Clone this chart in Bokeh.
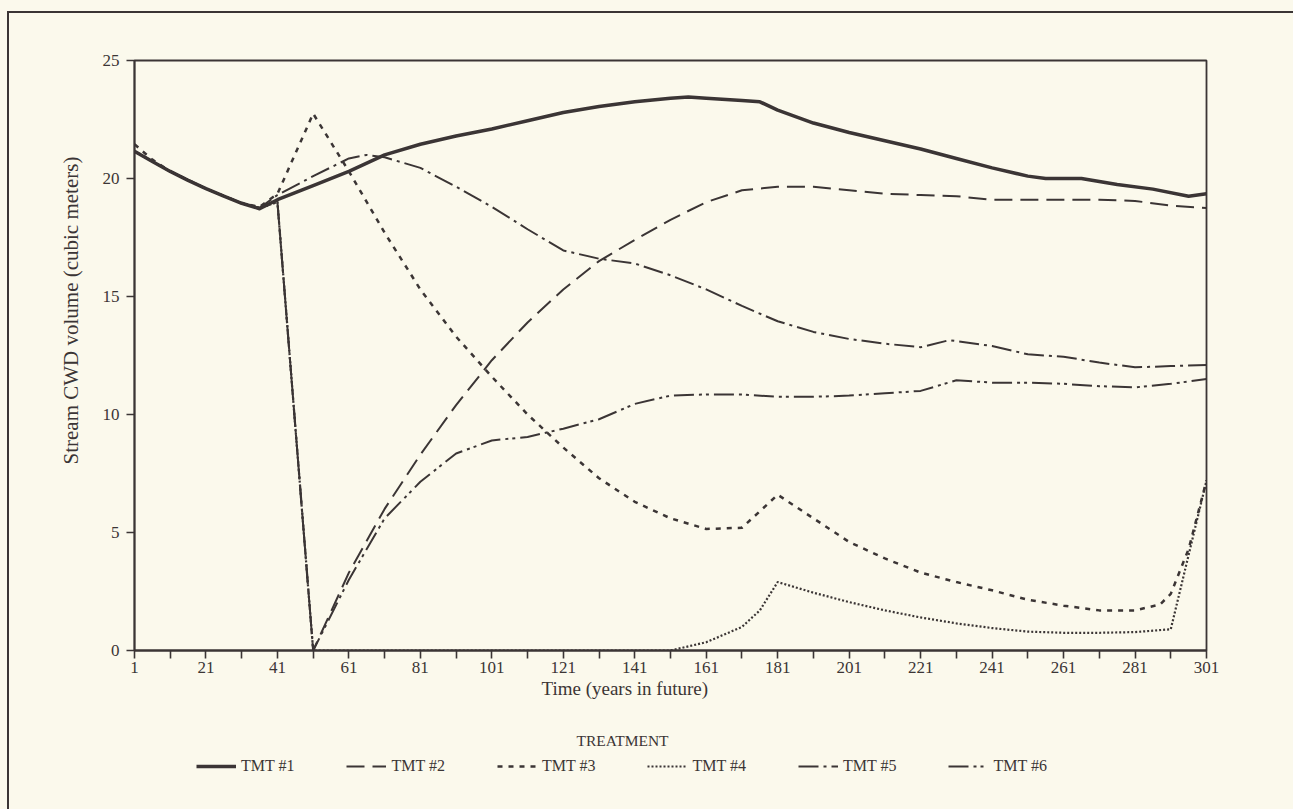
from bokeh.plotting import figure
from bokeh.models import Range1d, FixedTicker, Legend, LegendItem, Title, Label
from bokeh.layouts import column
from bokeh.embed import file_html
from bokeh.resources import INLINE

# ---------------- data ----------------
x_ticks = [1, 21, 41, 61, 81, 101, 121, 141, 161, 181, 201, 221, 241, 261, 281, 301]
x_minor = [11, 31, 51, 71, 91, 111, 131, 151, 171, 191, 211, 231, 251, 271, 291]
y_ticks = [0, 5, 10, 15, 20, 25]

years1 = [1, 6, 11, 16, 21, 26, 31, 36, 41, 46, 51, 61, 71, 81, 91, 101, 111, 121, 131, 141,
          151, 156, 161, 171, 176, 181, 191, 201, 211, 221, 231, 241, 251, 256, 266, 276, 286, 296, 301]
tmt1 = [21.15, 20.72, 20.3, 19.92, 19.57, 19.25, 18.95, 18.72, 19.1, 19.4, 19.7, 20.3, 21.0, 21.45,
        21.8, 22.1, 22.45, 22.8, 23.05, 23.25, 23.4, 23.45, 23.4, 23.3, 23.25, 22.9, 22.35, 21.95,
        21.6, 21.25, 20.85, 20.45, 20.1, 20.0, 20.0, 19.75, 19.55, 19.25, 19.35]

years2 = [1, 11, 21, 31, 36, 41, 51, 61, 71, 81, 91, 101, 111, 121, 131, 141, 151, 161, 171, 181,
          191, 201, 211, 221, 231, 241, 251, 261, 271, 281, 291, 301]
tmt2 = [21.15, 20.3, 19.57, 18.95, 18.75, 19.0, 0.0, 3.3, 6.0, 8.3, 10.4, 12.3, 13.9, 15.3, 16.5,
        17.4, 18.25, 19.0, 19.5, 19.65, 19.65, 19.5, 19.35, 19.3, 19.25, 19.1, 19.1, 19.1, 19.1,
        19.05, 18.85, 18.75]

years3 = [1, 6, 11, 21, 31, 36, 41, 51, 61, 71, 81, 91, 101, 111, 121, 131, 141, 151, 161, 171,
          181, 191, 201, 211, 221, 231, 241, 251, 261, 271, 281, 288, 291, 296, 301]
tmt3 = [21.45, 20.8, 20.3, 19.57, 18.95, 18.8, 19.35, 22.75, 20.3, 17.7, 15.3, 13.3, 11.6, 10.0,
        8.6, 7.3, 6.3, 5.6, 5.15, 5.2, 6.6, 5.6, 4.6, 3.9, 3.3, 2.9, 2.55, 2.15, 1.9, 1.7, 1.7,
        1.95, 2.4, 4.3, 7.2]

years4 = [1, 11, 21, 31, 36, 41, 51, 151, 161, 171, 176, 181, 191, 201, 211, 221, 231, 241, 251,
          261, 271, 281, 291, 301]
tmt4 = [21.15, 20.3, 19.57, 18.95, 18.75, 19.0, 0.0, 0.0, 0.35, 1.0, 1.7, 2.9, 2.45, 2.05, 1.7,
        1.4, 1.15, 0.95, 0.8, 0.75, 0.75, 0.78, 0.9, 7.2]

years5 = [1, 11, 21, 31, 36, 41, 51, 61, 66, 71, 81, 91, 101, 111, 121, 131, 141, 151, 161, 171,
          181, 191, 201, 211, 221, 229, 241, 251, 261, 271, 281, 291, 301]
tmt5 = [21.15, 20.3, 19.57, 18.95, 18.75, 19.3, 20.1, 20.85, 21.0, 20.9, 20.45, 19.65, 18.8, 17.85,
        16.95, 16.6, 16.4, 15.9, 15.3, 14.6, 13.95, 13.5, 13.2, 13.0, 12.85, 13.15, 12.9, 12.55,
        12.45, 12.2, 12.0, 12.05, 12.1]

years6 = [1, 11, 21, 31, 36, 41, 51, 61, 71, 81, 91, 101, 111, 121, 131, 141, 151, 161, 171, 181,
          191, 201, 211, 221, 231, 241, 251, 261, 271, 281, 291, 301]
tmt6 = [21.15, 20.3, 19.57, 18.95, 18.75, 19.0, 0.0, 3.0, 5.6, 7.15, 8.35, 8.9, 9.05, 9.4, 9.8,
        10.45, 10.8, 10.85, 10.85, 10.75, 10.75, 10.8, 10.9, 11.0, 11.45, 11.35, 11.35, 11.3, 11.2,
        11.15, 11.3, 11.5]

labels = ["TMT #1", "TMT #2", "TMT #3", "TMT #4", "TMT #5", "TMT #6"]
x_title = "Time (years in future)"
y_title = "Stream CWD volume (cubic meters)"
legend_title = "TREATMENT"

# ---------------- style ----------------
BG = "#fbf9ec"
INK = "#3b3535"
FONT = "Liberation Serif"

p = figure(width=1293, height=710, output_backend="svg", toolbar_location=None,
           x_range=Range1d(1, 301), y_range=Range1d(0, 25),
           min_border_left=134, min_border_right=87, min_border_top=60, min_border_bottom=60,
           background_fill_alpha=0, border_fill_alpha=0)
p.grid.visible = False
p.outline_line_color = INK
p.outline_line_width = 1.8

xa = p.xaxis[0]
xa.ticker = FixedTicker(ticks=x_ticks, minor_ticks=x_minor)
ya = p.yaxis[0]
ya.ticker = FixedTicker(ticks=y_ticks, minor_ticks=[])
for ax in (xa, ya):
    ax.axis_line_color = INK
    ax.axis_line_width = 1.8
    ax.major_tick_line_color = INK
    ax.major_tick_line_width = 1.6
    ax.minor_tick_line_color = INK
    ax.minor_tick_line_width = 1.6
    ax.major_tick_in = 0
    ax.major_tick_out = 8
    ax.minor_tick_in = 0
    ax.minor_tick_out = 8
    ax.major_label_text_font = FONT
    ax.major_label_text_font_size = "17px"
    ax.major_label_text_color = INK
xa.major_label_standoff = 3
ya.major_label_standoff = 7

# axis titles placed as in the reference (not centred on the frame)
xt = Title(text=x_title, align="left", offset=407, text_font=FONT, text_font_size="19px",
           text_font_style="normal", text_color=INK, standoff=0)
p.add_layout(xt, "below")
yt = Title(text=y_title, align="left", offset=186, text_font=FONT, text_font_size="21px",
           text_font_style="normal", text_color=INK, standoff=33)
p.add_layout(yt, "left")

series = [
    (years1, tmt1, 3.5, "solid"),
    (years2, tmt2, 2.0, "18 8"),
    (years3, tmt3, 2.5, "5 6"),
    (years4, tmt4, 2.2, "2 2"),
    (years5, tmt5, 2.0, "20 5 3 5"),
    (years6, tmt6, 2.0, "20 5 3 4 3 5"),
]
for xs, ys, w, dash in series:
    p.line(xs, ys, line_color=INK, line_width=w, line_dash=dash, line_join="round")

# legend strip below the chart (its frame is aligned with the chart frame: x 134..1206)
p2 = figure(width=1293, height=99, output_backend="svg", toolbar_location=None,
            x_range=Range1d(134, 1206), y_range=Range1d(0, 99),
            x_axis_location=None, y_axis_location=None, min_border=0,
            background_fill_alpha=0, border_fill_alpha=0, outline_line_color=None)
p2.grid.visible = False
items = []
for (xs, ys, w, dash), lab in zip(series, labels):
    r = p2.line(xs, ys, line_color=INK, line_width=w, line_dash=dash, visible=False)
    items.append(LegendItem(label=lab, renderers=[r]))

p2.add_layout(Label(x=622, y=69, text=legend_title, text_align="center", text_baseline="middle",
                    text_font=FONT, text_font_size="15.5px", text_color=INK))

legend = Legend(items=items, orientation="horizontal", location=(62, 33),
                border_line_color=None, background_fill_alpha=0,
                inactive_fill_alpha=0,
                glyph_width=40, glyph_height=20, label_standoff=5, spacing=52,
                padding=4, margin=0, label_text_font=FONT, label_text_font_size="16px",
                label_text_color=INK)
p2.add_layout(legend)

page = column(p, p2, spacing=0, styles={
    "background": f"linear-gradient({INK},{INK}) 8px 11px / 100% 2px no-repeat, "
                  f"linear-gradient({INK},{INK}) 7px 11px / 2px 100% no-repeat, {BG}"})

open("out.html", "w").write(file_html(page, INLINE))
